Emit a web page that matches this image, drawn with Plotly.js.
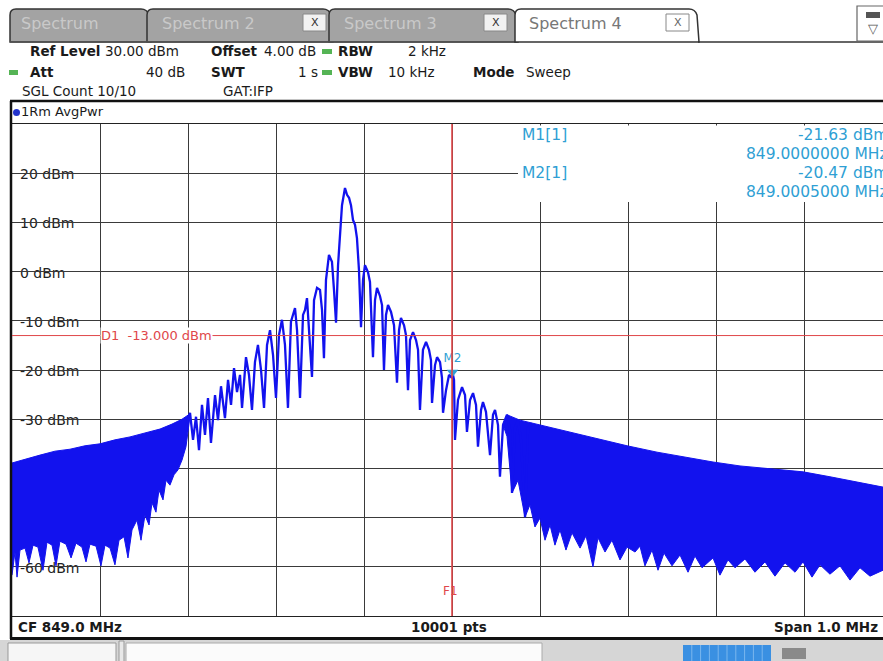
<!DOCTYPE html>
<html><head><meta charset="utf-8">
<script src="https://cdn.plot.ly/plotly-3.0.1.min.js"></script>
<style>html,body{margin:0;padding:0;background:#fff;}#chart{width:883px;height:661px;}</style>
</head><body><div id="chart"></div><script>
// ---- DATA (frequency offset from CF in kHz, level in dBm) ----
const centerFreqMHz = 849.0;
const spanMHz = 1.0;
const sweepPoints = 10001;

// main lobe region of the trace
const centerF = [-303.4,-297.7,-294.3,-290.9,-287.5,-284.1,-280.7,-277.3,-273.9,-269.3,
 -265.9,-262.5,-258.0,-254.5,-251.1,-247.7,-244.3,-240.9,-238.6,-234.1,
 -230.7,-227.3,-223.9,-220.5,-217.0,-213.6,-210.2,-206.8,-203.4,-200.0,
 -196.6,-193.2,-189.8,-186.4,-183.0,-178.4,-176.1,-172.7,-169.3,-167.0,
 -164.8,-162.5,-159.1,-156.8,-153.4,-150.0,-147.7,-145.5,-143.2,-139.8,
 -136.4,-134.1,-131.8,-129.5,-127.3,-125.0,-121.6,-119.3,-117.0,-114.8,
 -112.5,-110.2,-108.0,-105.7,-103.4,-101.1,-98.9,-95.5,-93.2,-89.8,
 -87.5,-85.2,-81.8,-79.5,-77.3,-75.0,-72.7,-69.3,-65.9,-62.5,
 -60.2,-58.0,-54.5,-52.3,-50.0,-47.7,-44.3,-40.9,-38.6,-36.4,
 -33.0,-29.5,-26.1,-23.9,-22.7,-19.3,-17.0,-13.6,-11.4,-10.2,
 -6.8,-3.4,0.0,0.5,2.3,3.4,6.8,11.4,14.8,17.0,
 20.5,23.9,27.3,29.5,33.0,35.2,38.6,43.2,46.6,48.9,
 52.3,54.5,58.0,62.5,65.9,68.2,71.6,75.0,78.4,83.0,
 86.4,90.9];
const centerP = [-32.2,-28.7,-34.2,-29.5,-36.3,-27.1,-33.2,-25.7,-34.8,-25.1,
 -30.2,-23.3,-29.8,-22.0,-27.1,-19.6,-24.5,-21.0,-27.7,-17.4,
 -21.0,-28.1,-18.4,-14.9,-20.0,-27.7,-14.9,-11.9,-16.9,-25.7,
 -12.9,-9.8,-14.9,-27.7,-10.2,-7.4,-11.9,-25.7,-8.8,-7.8,
 -5.4,-11.9,-21.4,-5.8,-3.3,-3.7,-7.8,-17.6,-1.7,3.4,
 2.0,-3.7,-10.4,1.3,7.0,13.5,17.0,15.6,15.0,13.5,
 10.5,9.5,6.8,0.3,-11.3,-1.7,1.3,-0.1,-2.1,-17.4,
 -5.8,-3.3,-5.0,-6.8,-20.0,-8.8,-6.8,-8.2,-10.9,-22.6,
 -11.9,-9.4,-10.9,-12.9,-24.1,-13.9,-12.3,-13.9,-15.9,-28.1,
 -15.9,-14.3,-15.9,-18.0,-26.7,-19.0,-17.4,-18.4,-21.6,-28.7,
 -24.1,-21.0,-21.63,-20.47,-22.0,-34.2,-26.1,-23.5,-25.1,-32.6,
 -26.1,-24.7,-27.1,-35.6,-28.1,-26.5,-28.5,-37.3,-29.1,-28.1,
 -31.2,-41.7,-31.2,-29.1,-32.2,-45.0,-31.8,-30.2,-34.2,-49.9,
 -31.8,-30.8];

// dense lower sideband: upper and lower envelope
const leftUpperF = [-500.0,-485.2,-468.2,-451.1,-434.1,-417.0,-400.0,-383.0,-365.9,-348.9,-331.8,-318.2,-306.8,-297.7];
const leftUpperP = [-38.9,-38.1,-37.3,-36.5,-36.1,-35.4,-35.0,-34.2,-33.6,-32.8,-32.0,-31.0,-30.0,-28.9];
const leftLowerF = [-500.0,-496.6,-494.3,-490.9,-485.2,-480.7,-476.1,-470.5,-464.8,-460.2,-454.5,-450.0,-445.5,-438.6,-432.9,
 -427.3,-420.5,-415.9,-411.4,-404.5,-398.9,-394.3,-388.6,-383.0,-378.4,-372.7,-368.2,-363.6,-358.0,-353.4,
 -348.9,-344.3,-340.9,-336.4,-333.0,-328.4,-325.0,-320.5,-315.9,-311.4,-306.8,-302.3,-297.7];
const leftLowerP = [-61.7,-57.0,-62.1,-56.6,-56.2,-59.2,-55.6,-56.0,-60.7,-55.0,-55.6,-59.8,-54.8,-55.4,-58.2,
 -55.2,-56.0,-59.0,-55.4,-55.8,-59.8,-55.6,-56.2,-59.6,-54.6,-53.9,-58.2,-52.5,-50.5,-54.6,
 -49.5,-51.5,-47.0,-48.9,-44.4,-46.4,-42.4,-43.4,-41.3,-40.3,-38.3,-35.6,-29.4];

// dense upper sideband: upper and lower envelope
const rightUpperF = [58.0,62.5,77.3,100.0,122.7,156.8,198.9,233.0,264.8,296.6,327.3,361.4,398.9,429.5,463.6,489.8,500.0];
const rightUpperP = [-31.0,-29.1,-30.2,-31.2,-32.2,-33.6,-35.4,-36.7,-37.7,-38.7,-39.5,-40.1,-40.7,-41.7,-42.8,-43.8,-44.2];
const rightLowerF = [58.0,62.5,68.2,75.0,83.0,88.6,94.3,100.0,105.7,111.4,117.0,122.7,129.5,136.4,145.5,152.3,160.2,165.9,
 173.9,181.8,190.9,198.9,208.0,213.6,219.3,227.3,234.1,240.9,250.0,259.1,268.2,276.1,284.1,296.6,304.5,313.6,
 321.6,333.0,344.3,355.7,367.0,378.4,389.8,398.9,409.1,418.2,429.5,440.9,452.3,463.6,475.0,489.8,500.0];
const rightLowerP = [-31.2,-33.5,-45.0,-42.4,-49.9,-47.4,-51.9,-50.1,-54.6,-51.5,-55.6,-52.5,-56.6,-53.1,-56.2,-53.7,-60.0,-54.1,
 -57.0,-54.6,-58.6,-56.0,-57.0,-55.8,-59.8,-56.6,-60.7,-57.2,-59.8,-57.6,-61.1,-57.8,-60.2,-58.2,-61.7,-58.6,
 -60.2,-58.4,-61.1,-59.0,-61.9,-59.2,-61.1,-59.0,-62.1,-59.6,-61.5,-59.8,-62.7,-60.2,-61.9,-60.7,-61.1];

// markers
const markerNames = ['M1', 'M2'];
const markerFreqMHz = [849.0000000, 849.0005000];
const markerLevel = [-21.63, -20.47];
const displayLineLevel = -13.0;
const frequencyLineMHz = 849.0;

// axis labels
const yLabelVals = [20, 10, 0, -10, -20, -30, -60];
const yLabelText = ['20 dBm', '10 dBm', '0 dBm', '-10 dBm', '-20 dBm', '-30 dBm', '-60 dBm'];

// ---- LAYOUT HELPERS (pixel -> paper) ----
const L = 12, T = 124, PW = 871, PH = 492;
const px = x => (x - L) / PW;
const py = y => (T + PH - y) / PH;
const FONT = 'DejaVu Sans';
const CYAN = '#2f9fd4', RED = '#e0474a', BLUE = '#1212ee';

const shapes = [], annotations = [];
function rect(x0, y0, x1, y1, fill, lineColor, lw, layer) {
  shapes.push({type:'rect', xref:'paper', yref:'paper', x0:px(x0), x1:px(x1), y0:py(y1), y1:py(y0),
    fillcolor: fill, line:{color: lineColor || fill, width: lw === undefined ? 0 : lw}, layer: layer || 'above'});
}
function hline(x0, x1, y, color, w) {
  shapes.push({type:'line', xref:'paper', yref:'paper', x0:px(x0), x1:px(x1), y0:py(y), y1:py(y), line:{color, width:w}, layer:'above'});
}
function vline(x, y0, y1, color, w) {
  shapes.push({type:'line', xref:'paper', yref:'paper', x0:px(x), x1:px(x), y0:py(y0), y1:py(y1), line:{color, width:w}, layer:'above'});
}
function txt(text, x, y, o) {
  o = o || {};
  annotations.push({text, xref:'paper', yref:'paper', x:px(x), y:py(y), xanchor:o.anchor || 'left', yanchor:'middle',
    showarrow:false, borderpad:0, bgcolor:o.bg || 'rgba(0,0,0,0)',
    font:{family:FONT, size:o.size || 13.5, color:o.color || '#1a1a1a'}});
}
function tab(xa, xb, fill) {
  const yt = 9, yb = 42, r = 6;
  const p = `M${px(xa)},${py(yb)} L${px(xa)},${py(yt + r)} Q${px(xa)},${py(yt)} ${px(xa + r)},${py(yt)} ` +
    `L${px(xb - r - 3)},${py(yt)} Q${px(xb - 3)},${py(yt)} ${px(xb - 1)},${py(yt + r)} L${px(xb + 1)},${py(yb)} Z`;
  shapes.push({type:'path', xref:'paper', yref:'paper', path:p, fillcolor:fill, line:{color:'#333', width:1.5}, layer:'above'});
}

// tabs
tab(10, 150, '#a3a3a3');
tab(147, 332, '#a3a3a3');
tab(329, 517, '#a3a3a3');
hline(10, 517, 42, '#555', 1.5);
tab(515, 698, '#ffffff');
hline(698, 883, 42, '#333', 1.5);
rect(303, 14, 326, 31, '#f2f2f2', '#888', 1);
rect(484, 14, 507, 31, '#f2f2f2', '#888', 1);
rect(666, 14, 689, 31, '#ffffff', '#888', 1);
rect(857, 6, 896, 41, '#ffffff', '#666', 1.2);
rect(866, 12, 880, 18, '#555', '#555', 0);
txt('Spectrum', 20, 24, {size:16, color:'#c9c9c9'});
txt('Spectrum 2', 161, 24, {size:16, color:'#c9c9c9'});
txt('Spectrum 3', 343, 24, {size:16, color:'#c9c9c9'});
txt('Spectrum 4', 528, 24, {size:16, color:'#777'});
txt('X', 314.5, 22.5, {size:11, color:'#333', anchor:'center'});
txt('X', 495.5, 22.5, {size:11, color:'#333', anchor:'center'});
txt('X', 677.5, 22.5, {size:11, color:'#666', anchor:'center'});
txt('▽', 873, 29, {size:13, color:'#555', anchor:'center'});

// settings block
const green = '#55b455';
rect(322, 49, 332, 54, green); rect(322, 70, 332, 75, green); rect(9, 70, 18, 75, green);
txt('<b>Ref Level</b>', 29, 51); txt('30.00 dBm', 104, 51);
txt('<b>Offset</b>', 210, 51); txt('4.00 dB', 263, 51);
txt('<b>RBW</b>', 337, 51); txt('2 kHz', 407, 51);
txt('<b>Att</b>', 29, 72); txt('40 dB', 186, 72, {anchor:'right'});
txt('<b>SWT</b>', 210, 72); txt('1 s', 319, 72, {anchor:'right'});
txt('<b>VBW</b>', 337, 72); txt('10 kHz', 387, 72);
txt('<b>Mode</b>', 472, 72); txt('Sweep', 525, 72);
txt('SGL Count 10/10', 21, 91); txt('GAT:IFP', 222, 91);

// panel frame
hline(10, 883, 101, '#111', 2.5);
vline(11, 101, 639, '#111', 2.5);
shapes.push({type:'circle', xref:'paper', yref:'paper', x0:px(13), x1:px(20), y0:py(116), y1:py(109), fillcolor:'#2233cc', line:{color:'#2233cc', width:0}, layer:'above'});
txt('1Rm AvgPwr', 20, 112, {size:13});

// bottom status bar
txt('<b>' + 'CF ' + centerFreqMHz.toFixed(1) + ' MHz</b>', 17, 627);
txt('<b>' + sweepPoints + ' pts</b>', 449, 627, {anchor:'center'});
txt('<b>' + 'Span ' + spanMHz.toFixed(1) + ' MHz</b>', 879, 627, {anchor:'right'});
rect(0, 640, 883, 661, '#d6d6d6');
hline(10, 883, 638.5, '#111', 3);
rect(8, 643, 116, 664, '#f6f6f6', '#999', 1);
rect(119, 641, 124, 664, '#e8e8e8', '#999', 1);
rect(126, 643, 542, 664, '#fbfbfb', '#aaa', 1);
rect(683, 645, 771, 662, '#3a90e2');
for (let i = 1; i < 10; i++) vline(683 + i * 8.8, 645, 662, '#8cc0f0', 0.8);
rect(782, 648, 806, 659, '#8a8a8a');

// marker info table
rect(518, 125.5, 890, 202, '#ffffff');
markerNames.forEach((m, i) => {
  const yy = 135 + i * 38;
  txt(m + '[1]', 521, yy, {size:15.5, color:CYAN});
  txt(markerLevel[i].toFixed(2) + ' dBm', 889, yy, {size:15.5, color:CYAN, anchor:'right'});
  txt(markerFreqMHz[i].toFixed(7) + ' MHz', 889, yy + 19, {size:15.5, color:CYAN, anchor:'right'});
});

// y labels drawn between grid and trace
yLabelVals.forEach((v, i) => {
  const w = yLabelText[i].length * 8.6 + 2;
  shapes.push({type:'rect', xref:'paper', yref:'y', x0:px(13), x1:px(16 + w), y0:v - 1.3, y1:v + 1.3,
    fillcolor:'#ffffff', line:{width:0}, layer:'between',
    label:{text:yLabelText[i], textposition:'middle left', padding:4, font:{family:FONT, size:14, color:'#222'}}});
});

// display line D1 and frequency line F1
const f1k = (frequencyLineMHz - centerFreqMHz) * 1000;
shapes.push({type:'line', xref:'paper', yref:'y', x0:0, x1:1, y0:displayLineLevel, y1:displayLineLevel, line:{color:RED, width:1}, layer:'above'});
shapes.push({type:'line', xref:'x', yref:'paper', x0:f1k, x1:f1k, y0:0, y1:1, line:{color:RED, width:1.6}, layer:'above'});
annotations.push({text:'D1  ' + displayLineLevel.toFixed(3) + ' dBm', xref:'paper', yref:'y', x:px(100), y:displayLineLevel,
  xanchor:'left', yanchor:'middle', showarrow:false, bgcolor:'#ffffff', borderpad:0, font:{family:FONT, size:13, color:RED}});
annotations.push({text:'F1', xref:'x', yref:'paper', x:f1k - 2, y:py(591), xanchor:'center', yanchor:'middle', showarrow:false,
  font:{family:FONT, size:12, color:RED}});

// ---- TRACES ----
function band(uF, uP, lF, lP) {
  return {x: uF.concat(lF.slice().reverse()), y: uP.concat(lP.slice().reverse()), type:'scatter', mode:'lines',
    fill:'toself', fillcolor:BLUE, line:{color:BLUE, width:1}, hoverinfo:'skip'};
}
const mk = markerNames.map((m, i) => (markerFreqMHz[i] - centerFreqMHz) * 1000);
const traces = [
  band(leftUpperF, leftUpperP, leftLowerF, leftLowerP),
  band(rightUpperF, rightUpperP, rightLowerF, rightLowerP),
  {x:centerF, y:centerP, type:'scatter', mode:'lines', line:{color:BLUE, width:2.3}},
  {x:[mk[1]], y:[markerLevel[1]], type:'scatter', mode:'markers+text', text:[markerNames[1]], textposition:'top center',
    textfont:{family:FONT, size:12, color:CYAN}, marker:{symbol:'triangle-down', size:10, color:CYAN}}
];

const layout = {
  width:883, height:661, margin:{l:L, r:0, t:T, b:661 - T - PH, pad:0},
  paper_bgcolor:'#ffffff', plot_bgcolor:'#ffffff', showlegend:false, hovermode:false,
  font:{family:FONT},
  xaxis:{range:[-500, -500 + PW / 0.88], tick0:0, dtick:100, showticklabels:false, ticks:'',
    showgrid:true, gridcolor:'#3a3a3a', gridwidth:1, zeroline:false, showline:true, mirror:true, linecolor:'#222', linewidth:1.2},
  yaxis:{range:[-70, 30], dtick:10, showticklabels:false, ticks:'',
    showgrid:true, gridcolor:'#3a3a3a', gridwidth:1, zeroline:false, showline:true, mirror:false, linecolor:'#111', linewidth:2},
  shapes, annotations
};
Plotly.newPlot('chart', traces, layout, {displayModeBar:false, staticPlot:true});
</script></body></html>
